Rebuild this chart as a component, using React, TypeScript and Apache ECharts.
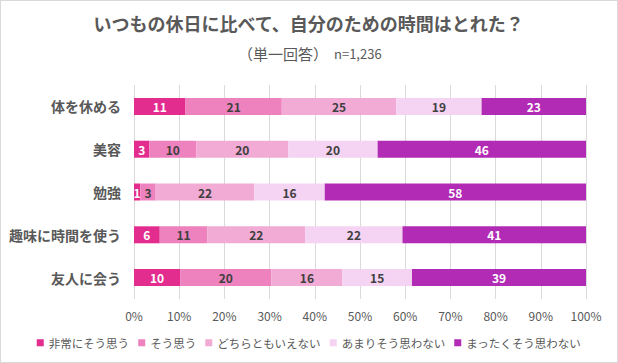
import React, { useEffect, useRef } from "react";
import * as echarts from "echarts";

const categories = ["体を休める", "美容", "勉強", "趣味に時間を使う", "友人に会う"];
const seriesNames = ["非常にそう思う", "そう思う", "どちらともいえない", "あまりそう思わない", "まったくそう思わない"];
const s1 = [11.4, 3.4, 1.4, 5.7, 10.2];
const s2 = [21.3, 10.4, 3.4, 10.5, 20.2];
const s3 = [25.3, 20.3, 21.8, 21.7, 15.7];
const s4 = [18.9, 19.8, 15.6, 21.5, 15.4];
const s5 = [23.1, 46.1, 57.8, 40.6, 38.5];
const colors = ["#E22D8E", "#EE82BE", "#F2ABD4", "#F5D3F2", "#B22BB4"];
const labelColors = ["#ffffff", "#404040", "#404040", "#404040", "#ffffff"];
const titleText = "いつもの休日に比べて、自分のための時間はとれた？";
const subText1 = "（単一回答）";
const subText2 = "n=1,236";

const FONT = '"Noto Sans CJK JP", "Noto Sans", sans-serif';

export default function App() {
  const ref = useRef<HTMLDivElement>(null);
  useEffect(() => {
    if (!ref.current) return;
    const chart = echarts.init(ref.current, null, { renderer: "svg" });
    const all = [s1, s2, s3, s4, s5];
    chart.setOption({
      animation: false,
      textStyle: { fontFamily: FONT },
      graphic: [
        {
          type: "text",
          left: "center",
          top: 13,
          style: { text: titleText, font: `bold 18px ${FONT}`, fill: "#595959" },
        },
        {
          type: "text",
          left: 237,
          top: 45,
          style: { text: subText1, font: `15px ${FONT}`, fill: "#595959" },
        },
        {
          type: "text",
          left: 333,
          top: 46,
          style: { text: subText2, font: `13px ${FONT}`, fill: "#595959" },
        },
      ],
      legend: {
        left: "center",
        top: 331,
        itemWidth: 7,
        itemHeight: 7,
        itemGap: 9,
        icon: "rect",
        textStyle: { fontSize: 11.5, color: "#595959", fontFamily: FONT },
        data: seriesNames,
      },
      grid: { left: 133, right: 31, top: 84, bottom: 63, containLabel: false },
      xAxis: {
        type: "value",
        min: 0,
        max: 100,
        interval: 10,
        axisLabel: { formatter: "{value}%", color: "#595959", fontSize: 12, margin: 10 },
        splitLine: { show: true, lineStyle: { color: "#d9d9d9", width: 1 } },
        axisLine: { show: false },
        axisTick: { show: false },
      },
      yAxis: {
        type: "category",
        data: categories,
        inverse: true,
        axisLine: { show: false },
        axisTick: { show: false },
        axisLabel: { color: "#595959", fontSize: 14, fontWeight: "bold", margin: 13 },
      },
      series: all.map((d, i) => ({
        name: seriesNames[i],
        type: "bar",
        stack: "total",
        barWidth: 17,
        data: d,
        itemStyle: { color: colors[i] },
        label: {
          show: true,
          position: "inside",
          color: labelColors[i],
          fontSize: 12,
          fontWeight: "bold",
          fontFamily: FONT,
          formatter: (p: any) => String(Math.round(p.value)),
        },
      })),
    });
    return () => chart.dispose();
  }, []);
  return (
    <div
      style={{
        position: "fixed",
        left: 0,
        top: 0,
        width: 618,
        height: 363,
        boxSizing: "border-box",
        border: "1px solid #d9d9d9",
        background: "#fff",
      }}
    >
      <div ref={ref} style={{ width: 616, height: 361 }} />
    </div>
  );
}
